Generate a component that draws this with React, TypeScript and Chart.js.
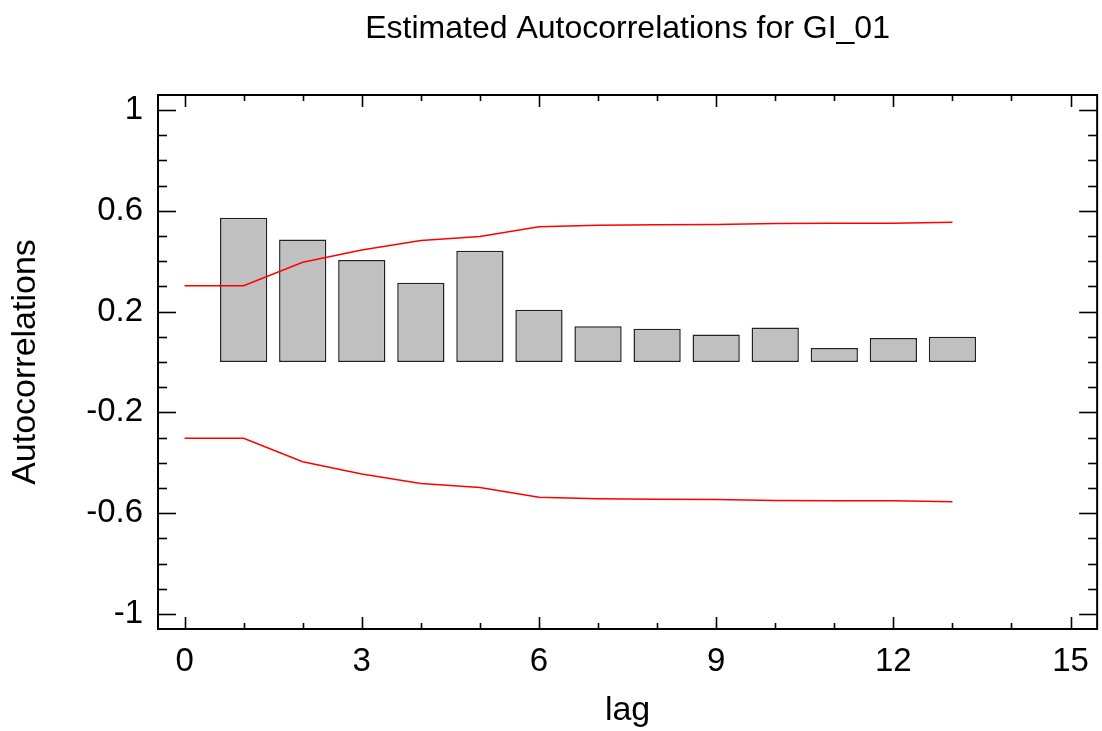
import React, { useEffect, useRef } from "react";
import { Chart, registerables } from "chart.js";

Chart.register(...registerables);

const TITLE = "Estimated Autocorrelations for GI_01";
const X_TITLE = "lag";
const Y_TITLE = "Autocorrelations";

const LAGS = [1, 2, 3, 4, 5, 6, 7, 8, 9, 10, 11, 12, 13];
const ACF = [0.573, 0.486, 0.405, 0.315, 0.442, 0.207, 0.142, 0.132, 0.109, 0.137, 0.056, 0.095, 0.1];

const LIMIT_LAGS = [0, 1, 2, 3, 4, 5, 6, 7, 8, 9, 10, 11, 12, 13];
const UPPER = [0.303, 0.303, 0.396, 0.445, 0.482, 0.498, 0.537, 0.543, 0.545, 0.546, 0.55, 0.551, 0.551, 0.555];
const LOWER = [-0.303, -0.303, -0.396, -0.445, -0.482, -0.498, -0.537, -0.543, -0.545, -0.546, -0.55, -0.551, -0.551, -0.555];

const X_TICKS = [0, 3, 6, 9, 12, 15];
const X_MINOR = [1, 2, 4, 5, 7, 8, 10, 11, 13, 14];
const Y_TICKS = [-1, -0.6, -0.2, 0.2, 0.6, 1];
const Y_MINOR = [-0.9, -0.8, -0.7, -0.5, -0.4, -0.3, -0.1, 0, 0.1, 0.3, 0.4, 0.5, 0.7, 0.8, 0.9];
const Y_LABELS = ["-1", "-0.6", "-0.2", "0.2", "0.6", "1"];

const X_MIN = -0.45;
const X_MAX = 15.45;
const Y_MIN = -1.06;
const Y_MAX = 1.06;

const FONT = '"Liberation Sans", Arial, Helvetica, sans-serif';

const frameTicksPlugin = {
  id: "frameTicks",
  afterDraw(chart: any) {
    const { ctx, chartArea: a, scales } = chart;
    const xs = scales.x;
    const ys = scales.y;
    ctx.save();
    ctx.strokeStyle = "#000";
    ctx.lineWidth = 2;
    ctx.strokeRect(a.left, a.top, a.right - a.left, a.bottom - a.top);
    ctx.lineWidth = 1.6;
    const seg = (x1: number, y1: number, x2: number, y2: number) => {
      ctx.beginPath();
      ctx.moveTo(x1, y1);
      ctx.lineTo(x2, y2);
      ctx.stroke();
    };
    const vTick = (v: number, len: number) => {
      const px = Math.round(xs.getPixelForValue(v)) + 0.5;
      seg(px, a.bottom, px, a.bottom - len);
      seg(px, a.top, px, a.top + len);
    };
    const hTick = (v: number, len: number) => {
      const py = Math.round(ys.getPixelForValue(v)) + 0.5;
      seg(a.left, py, a.left + len, py);
      seg(a.right, py, a.right - len, py);
    };
    X_TICKS.forEach((v) => vTick(v, 12));
    X_MINOR.forEach((v) => vTick(v, 6));
    Y_TICKS.forEach((v) => hTick(v, 18));
    Y_MINOR.forEach((v) => hTick(v, 9));

    ctx.fillStyle = "#000";
    ctx.font = `32px ${FONT}`;
    ctx.textAlign = "center";
    ctx.textBaseline = "alphabetic";
    ctx.fillText(TITLE, (a.left + a.right) / 2, 38);
    ctx.restore();
  },
};

export default function App() {
  const canvasRef = useRef<HTMLCanvasElement | null>(null);

  useEffect(() => {
    document.body.style.margin = "0";
    const canvas = canvasRef.current;
    if (!canvas) return;
    Chart.defaults.font.family = FONT;
    Chart.defaults.color = "#000";

    const chart = new Chart(canvas, {
      type: "bar",
      data: {
        datasets: [
          {
            type: "line",
            label: "upper",
            data: LIMIT_LAGS.map((l, i) => ({ x: l, y: UPPER[i] })),
            borderColor: "#ff0000",
            borderWidth: 1.5,
            pointRadius: 0,
            fill: false,
            tension: 0,
            order: 0,
          },
          {
            type: "line",
            label: "lower",
            data: LIMIT_LAGS.map((l, i) => ({ x: l, y: LOWER[i] })),
            borderColor: "#ff0000",
            borderWidth: 1.5,
            pointRadius: 0,
            fill: false,
            tension: 0,
            order: 0,
          },
          {
            type: "bar",
            label: "acf",
            data: LAGS.map((l, i) => ({ x: l, y: ACF[i] })),
            backgroundColor: "#c0c0c0",
            borderColor: "#222222",
            borderWidth: 1.5,
            borderSkipped: false,
            categoryPercentage: 1,
            barPercentage: 0.8,
            order: 1,
          },
        ] as any,
      },
      options: {
        animation: false,
        responsive: false,
        maintainAspectRatio: false,
        layout: { padding: { top: 95, right: 3, left: 0, bottom: 0 } },
        plugins: {
          legend: { display: false },
          tooltip: { enabled: false },
          title: { display: false },
        },
        scales: {
          x: {
            type: "linear",
            min: X_MIN,
            max: X_MAX,
            offset: false,
            grid: { display: false, offset: false, drawTicks: false },
            border: { display: false },
            afterBuildTicks: (s: any) => {
              s.ticks = X_TICKS.map((v) => ({ value: v }));
            },
            afterFit: (s: any) => {
              s.height = 102;
            },
            ticks: {
              padding: 13,
              maxRotation: 0,
              autoSkip: false,
              font: { size: 33 },
              color: "#000",
              callback: (v: any) => String(v),
            },
            title: {
              display: true,
              text: X_TITLE,
              font: { size: 34 },
              color: "#000",
              padding: { top: 0, bottom: 0 },
            },
          },
          y: {
            type: "linear",
            min: Y_MIN,
            max: Y_MAX,
            grid: { display: false, drawTicks: false },
            border: { display: false },
            afterBuildTicks: (s: any) => {
              s.ticks = Y_TICKS.map((v) => ({ value: v }));
            },
            afterFit: (s: any) => {
              s.width = 158;
            },
            ticks: {
              padding: 15,
              autoSkip: false,
              font: { size: 33 },
              color: "#000",
              callback: (v: any) => {
                const i = Y_TICKS.indexOf(Number(v));
                return i >= 0 ? Y_LABELS[i] : String(v);
              },
            },
            title: {
              display: true,
              text: Y_TITLE,
              font: { size: 34 },
              color: "#000",
              padding: { top: 5, bottom: 0 },
            },
          },
        },
      } as any,
      plugins: [frameTicksPlugin],
    });

    return () => {
      chart.destroy();
    };
  }, []);

  return (
    <div style={{ width: 1102, height: 731, position: "relative", background: "#fff" }}>
      <canvas ref={canvasRef} width={1102} height={731} style={{ display: "block" }} />
    </div>
  );
}
